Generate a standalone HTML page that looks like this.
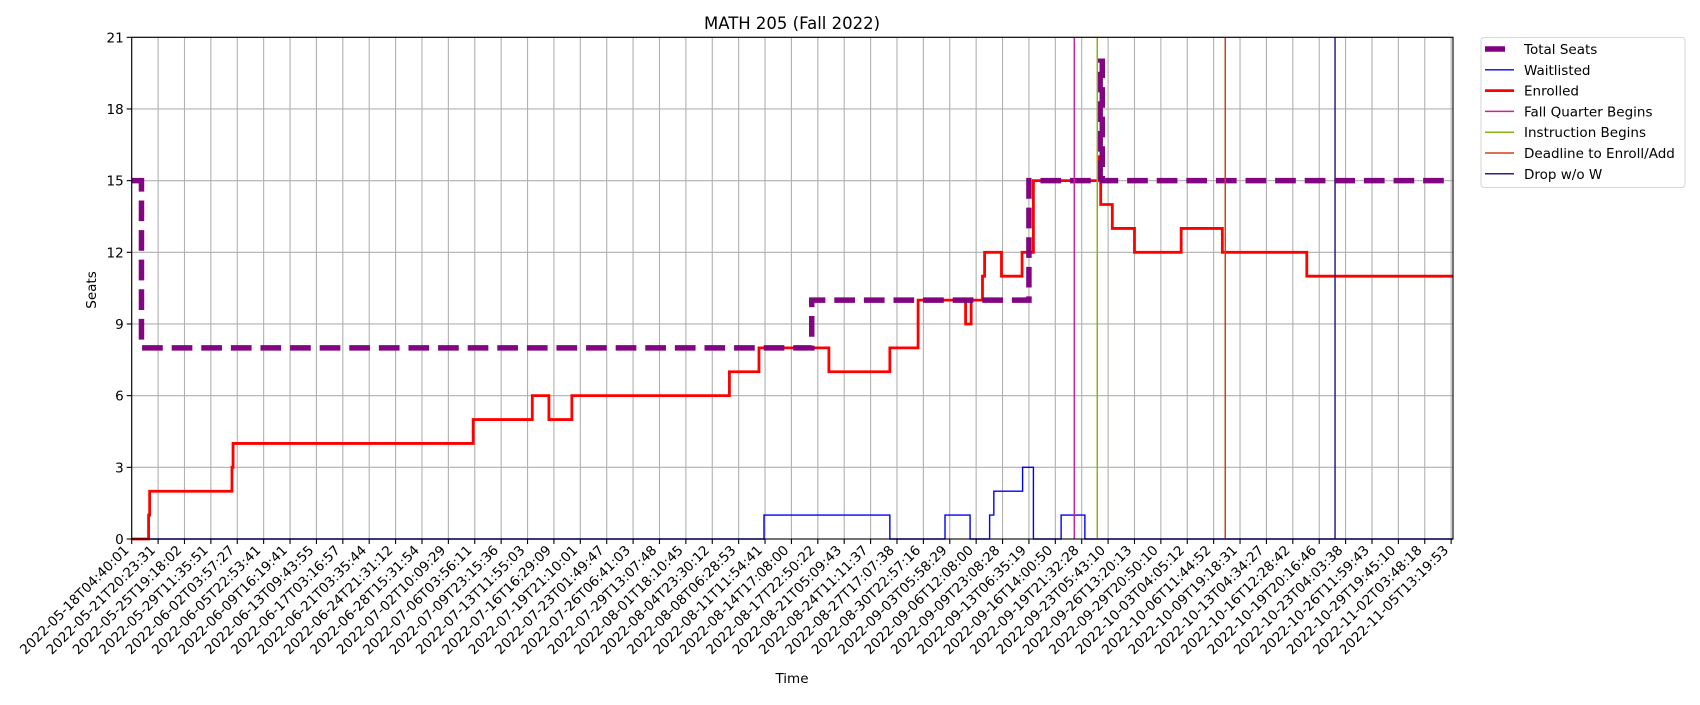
<!DOCTYPE html>
<html><head><meta charset="utf-8"><style>
body{margin:0;background:#fff;font-family:"Liberation Sans","DejaVu Sans",sans-serif;}
svg text{font-family:"DejaVu Sans","Liberation Sans",sans-serif;}
</style></head><body>
<svg id="chart" width="1700" height="700" viewBox="0 0 1700 700" xmlns="http://www.w3.org/2000/svg">
<rect x="0" y="0" width="1700" height="700" fill="#fff"/>
<text x="792" y="29" text-anchor="middle" font-size="16.5">MATH 205 (Fall 2022)</text>
<g id="grid"></g>
<g id="plot"></g>
<g id="axes"></g>
<text x="96" y="290" text-anchor="middle" font-size="13.5" transform="rotate(-90 96 290)">Seats</text>
<text x="792" y="683" text-anchor="middle" font-size="13.5">Time</text>
<g id="legend"></g>
</svg>
<script>
const tickLabels = ["2022-05-18T04:40:01","2022-05-21T20:23:31","2022-05-25T19:18:02","2022-05-29T11:35:51","2022-06-02T03:57:27","2022-06-05T22:53:41","2022-06-09T16:19:41","2022-06-13T09:43:55","2022-06-17T03:16:57","2022-06-21T03:35:44","2022-06-24T21:31:12","2022-06-28T15:31:54","2022-07-02T10:09:29","2022-07-06T03:56:11","2022-07-09T23:15:36","2022-07-13T11:55:03","2022-07-16T16:29:09","2022-07-19T21:10:01","2022-07-23T01:49:47","2022-07-26T06:41:03","2022-07-29T13:07:48","2022-08-01T18:10:45","2022-08-04T23:30:12","2022-08-08T06:28:53","2022-08-11T11:54:41","2022-08-14T17:08:00","2022-08-17T22:50:22","2022-08-21T05:09:43","2022-08-24T11:11:37","2022-08-27T17:07:38","2022-08-30T22:57:16","2022-09-03T05:58:29","2022-09-06T12:08:00","2022-09-09T23:08:28","2022-09-13T06:35:19","2022-09-16T14:00:50","2022-09-19T21:32:28","2022-09-23T05:43:10","2022-09-26T13:20:13","2022-09-29T20:50:10","2022-10-03T04:05:12","2022-10-06T11:44:52","2022-10-09T19:18:31","2022-10-13T04:34:27","2022-10-16T12:28:42","2022-10-19T20:16:46","2022-10-23T04:03:38","2022-10-26T11:59:43","2022-10-29T19:45:10","2022-11-02T03:48:18","2022-11-05T13:19:53"];
const yTicks = [0,3,6,9,12,15,18,21];
// step series: change positions (in tick-index units) and values
const totalX = [0, 0.37, 25.77, 34.0, 36.7, 36.78];
const totalV = [15, 8, 10, 15, 20, 15];
const enrolledX = [0, 0.64, 0.68, 3.8, 3.84, 12.94, 15.18, 15.81, 16.68, 22.65, 23.77, 26.42, 28.73, 29.8, 31.6, 31.81, 32.24, 32.32, 32.96, 33.74, 34.17, 36.65, 36.72, 37.16, 38.0, 39.77, 41.33, 44.53];
const enrolledV = [0, 1, 2, 3, 4, 5, 6, 5, 6, 7, 8, 7, 8, 10, 9, 10, 11, 12, 11, 12, 15, 16, 14, 13, 12, 13, 12, 11];
const waitX = [0, 23.96, 28.73, 30.82, 31.77, 32.51, 32.67, 33.76, 34.17, 35.22, 36.12];
const waitV = [0, 1, 0, 1, 0, 1, 2, 3, 0, 1, 0];
const eventNames = ["Fall Quarter Begins","Instruction Begins","Deadline to Enroll/Add","Drop w/o W"];
const eventX = [35.72, 36.59, 41.44, 45.6];
const eventColors = ["#cc2299","#88b414","#d2401a","#2e1f8a"];

const NS = "http://www.w3.org/2000/svg";
const L = 131.7, R = 1453, T = 37.3, B = 539, X0 = 0, XMAX = 50.07, Y0 = 0, Y1 = 21;
const TICKW = 26.4;
function xs(u){ return L + u * ((R - L) / (XMAX - X0)); }
function ys(v){ return B - (v - Y0) * (B - T) / (Y1 - Y0); }
function mk(tag, attrs, parent){ const e = document.createElementNS(NS, tag); for (const k in attrs) e.setAttribute(k, attrs[k]); parent.appendChild(e); return e; }
const grid = document.getElementById('grid'), plot = document.getElementById('plot'), axes = document.getElementById('axes'), legend = document.getElementById('legend');

tickLabels.forEach((lab, i) => {
  const x = xs(i);
  const g = mk('line', {x1:x, x2:x, y1:T, y2:B, stroke:'#b0b0b0', 'stroke-width':1.1}, grid);
  
  
  const t = mk('line', {x1:x, x2:x, y1:B, y2:B+5, stroke:'#000', 'stroke-width':1.1}, axes);
  
  
  const tx = mk('text', {x:x-2, y:B+12, 'text-anchor':'end', 'font-size':13.5, transform:`rotate(-45 ${x-2} ${B+12})`}, axes);
  tx.textContent = lab;
  
  
});
yTicks.forEach(v => {
  const y = ys(v);
  const g = mk('line', {x1:L, x2:R, y1:y, y2:y, stroke:'#b0b0b0', 'stroke-width':1.1}, grid);
  
  
  const t = mk('line', {x1:L-5, x2:L, y1:y, y2:y, stroke:'#000', 'stroke-width':1.1}, axes);
  
  
  const tx = mk('text', {x:L-8, y:y+5, 'text-anchor':'end', 'font-size':13.5}, axes);
  tx.textContent = v;
  
  
});

function stepPath(X, V){
  let d = `M${xs(X[0])},${ys(V[0])}`;
  for (let i = 1; i < X.length; i++) d += ` H${xs(X[i])} V${ys(V[i])}`;
  d += ` H${xs(XMAX)}`;
  return d;
}
const pw = mk('path', {d:stepPath(waitX, waitV), fill:'none', stroke:'#0000ff', 'stroke-width':1.4}, plot);


const pe = mk('path', {d:stepPath(enrolledX, enrolledV), fill:'none', stroke:'#ff0000', 'stroke-width':2.8}, plot);


const pt = mk('path', {d:stepPath(totalX, totalV), fill:'none', stroke:'#800080', 'stroke-width':5.5, 'stroke-dasharray':'20.7 8.9', opacity:0.98}, plot);


eventX.forEach((u, i) => {
  const l = mk('line', {x1:xs(u), x2:xs(u), y1:T, y2:B, stroke:eventColors[i], 'stroke-width':1.5}, plot);
  
  
});
const spine = mk('rect', {x:L, y:T, width:R-L, height:B-T, fill:'none', stroke:'#000', 'stroke-width':1.1}, axes);



// legend
const box = mk('rect', {x:1481, y:37.5, width:204, height:150, rx:3, fill:'#fff', stroke:'#d6d6d6', 'stroke-width':1}, legend);


const legNames = ["Total Seats","Waitlisted","Enrolled"].concat(eventNames);
const legColors = ["#800080","#0000ff","#ff0000"].concat(eventColors);
const legW = [5.5, 1.4, 2.8, 1.5, 1.5, 1.5, 1.5];
legNames.forEach((n, i) => {
  const y = 49 + i * 20.8;
  const a = {x1:1485, x2:1514, y1:y, y2:y, stroke:legColors[i], 'stroke-width':legW[i]};
  if (i === 0) { a.x1 = 1485; a.x2 = 1505; }
  const h = mk('line', a, legend);
  
  
  const t = mk('text', {x:1524, y:y+5, 'font-size':13.5}, legend);
  t.textContent = n;
  
  
});
</script>
</body></html>
